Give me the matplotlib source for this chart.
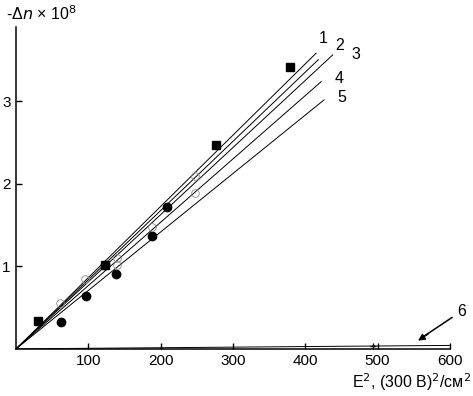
import numpy as np
import matplotlib.pyplot as plt

plt.rcParams['font.family'] = ['Liberation Sans', 'DejaVu Sans']

# data
sq_x = [30, 123, 277, 379]
sq_y = [0.34, 1.02, 2.47, 3.42]
fc_x = [62, 97, 123, 138, 188, 209]
fc_y = [0.32, 0.64, 1.02, 0.91, 1.37, 1.72]
oc_x = [61, 95, 139, 139, 188, 247, 247]
oc_y = [0.55, 0.85, 1.10, 1.02, 1.48, 2.09, 1.89]

line_labels = ['1', '2', '3', '4', '5', '6']
line_slopes = [0.00863, 0.00838, 0.00813, 0.00767, 0.00708, 0.00007]
line_xend = [415, 418, 438, 422, 426, 600]

fig = plt.figure(figsize=(4.73, 3.96), dpi=100)
ax = fig.add_axes([0.034, 0.119, 0.917, 0.813])

for s, xe in zip(line_slopes, line_xend):
    xs = np.array([0, xe])
    ax.plot(xs, s * xs, color='black', lw=0.7)

ax.plot(sq_x, sq_y, 's', color='black', ms=5.5)
ax.plot(fc_x, fc_y, 'o', color='black', ms=6)
ax.plot(oc_x, oc_y, 'o', mfc='none', mec='#888888', ms=5.5, mew=0.6)
ax.plot([494], [0.03], '+', color='black', ms=4)

# curve labels
lab_pos = [(425, 3.76), (447, 3.68), (470, 3.57), (447, 3.28), (451, 3.05), (616, 0.45)]
for t, (x, y) in zip(line_labels, lab_pos):
    ax.text(x, y, t, fontsize=11.5, ha='center', va='center', clip_on=False)

# arrow pointing to curve 6
ax.plot([562, 603], [0.14, 0.38], color='black', lw=1.1, clip_on=False)
arr = ax.annotate('', xy=(556, 0.1), xytext=(570, 0.18), annotation_clip=False,
                  arrowprops=dict(arrowstyle='-|>', color='black', lw=1.0,
                                  shrinkA=0, shrinkB=0, mutation_scale=10))
arr.arrow_patch.set_clip_on(False)

ax.set_xlim(0, 600)
ax.set_ylim(0, 3.9)
ax.set_xticks([100, 200, 300, 400, 500, 600])
ax.set_yticks([1, 2, 3])
ax.tick_params(direction='in', length=4, width=1, labelsize=11, pad=4)
for side in ['top', 'right']:
    ax.spines[side].set_visible(False)
for side in ['left', 'bottom']:
    ax.spines[side].set_linewidth(1.1)

fig.text(0.995, 0.035, 'E$^2$, (300 В)$^2$/см$^2$', ha='right', va='center', fontsize=11.5)
fig.text(0.012, 0.965, '-Δ$n$ × 10$^8$', ha='left', va='center', fontsize=11.5)

fig.savefig('out.png', dpi=100)
